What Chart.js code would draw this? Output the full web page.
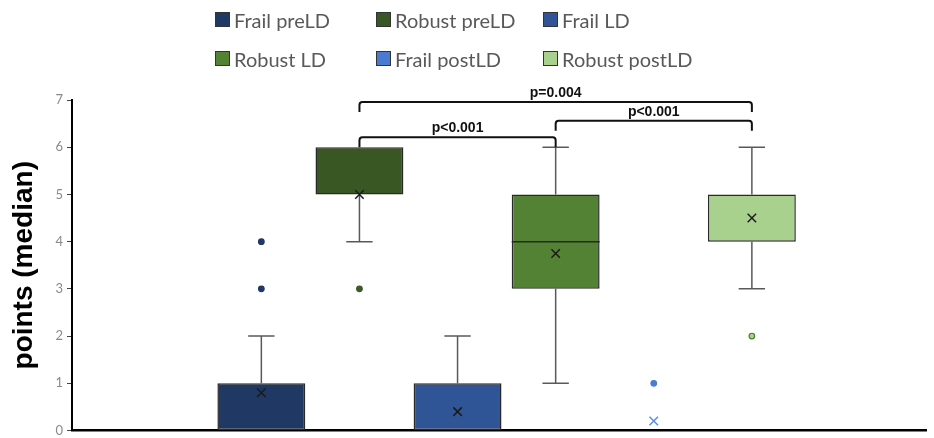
<!DOCTYPE html>
<html>
<head>
<meta charset="utf-8">
<title>points (median)</title>
<script src="https://cdn.jsdelivr.net/npm/chart.js@4.4.1/dist/chart.umd.min.js"></script>
<style>
  body { margin: 0; background: #fff; }
  #wrap { position: relative; width: 934px; height: 438px; }
  #legend {
    position: absolute; left: 215px; top: 0;
    display: grid; grid-template-columns: 161px 167px auto; grid-auto-rows: 39px;
    font-family: Lato, "Open Sans", sans-serif; font-size: 20px; color: #595959;
  }
  .item { display: flex; align-items: center; white-space: nowrap; }
  .sw { width: 13px; height: 13px; border: 1px solid #333; margin-right: 4px; }
</style>
</head>
<body>
<div id="wrap">
  <canvas id="myChart" width="934" height="438"></canvas>
  <div id="legend"></div>
</div>
<script>
// categories (one box each)
const categories = ['Frail preLD', 'Robust preLD', 'Frail LD', 'Robust LD', 'Frail postLD', 'Robust postLD'];

// box plot values
const q1 = [0, 5, 0, 3, 0, 4];
const median = [1, 5, 1, 4, 0, 5];
const q3 = [1, 6, 1, 5, 0, 5];
const whiskerLow = [0, 4, 0, 1, 0, 3];
const whiskerHigh = [2, 6, 2, 6, 0, 6];
const means = [0.8, 5.0, 0.4, 3.75, 0.2, 4.5];
const outliers = [[3, 4], [3], [], [], [1], [2]];

// significance brackets (category index from/to, height in points, label)
const bracketFrom = [1, 3, 1];
const bracketTo = [5, 5, 3];
const bracketLevel = [6.96, 6.56, 6.21];
const bracketLabels = ['p=0.004', 'p<0.001', 'p<0.001'];

// colours
const boxColors = ['#203864', '#385723', '#2f5597', '#548235', '#4a7bd0', '#a9d18e'];
const meanColors = ['#1a1a1a', '#1a1a1a', '#1a1a1a', '#1a1a1a', '#5b8fdc', '#1a1a1a'];
const outlierFill = ['#203864', '#3d5a2a', '#2f5597', '#548235', '#4a7bd0', '#a9d18e'];
const outlierBorder = ['#203864', '#3d5a2a', '#2f5597', '#548235', '#4a7bd0', '#4f7a32'];

// legend (html)
const legend = document.getElementById('legend');
categories.forEach((name, i) => {
  const item = document.createElement('div');
  item.className = 'item';
  item.innerHTML = `<span class="sw" style="background:${boxColors[i]}"></span>${name}`;
  legend.appendChild(item);
});

const xPos = categories.map((c, i) => i + 1);

const outlierPoints = [];
const outlierCat = [];
outliers.forEach((vals, i) => {
  vals.forEach(v => {
    outlierPoints.push({ x: i + 1, y: v });
    outlierCat.push(i);
  });
});

// whiskers, medians and brackets drawn with the chart's scales
const boxExtras = {
  id: 'boxExtras',
  beforeDatasetsDraw(chart) {
    const ctx = chart.ctx;
    const xs = chart.scales.x, ys = chart.scales.y;
    const bars = chart.getDatasetMeta(2).data;
    ctx.save();
    ctx.strokeStyle = '#595959';
    ctx.lineWidth = 1.5;
    categories.forEach((c, i) => {
      const x = xs.getPixelForValue(xPos[i]);
      const half = bars[i].width * 0.15;
      const seg = (from, to) => {
        ctx.beginPath();
        ctx.moveTo(x, ys.getPixelForValue(from));
        ctx.lineTo(x, ys.getPixelForValue(to));
        ctx.moveTo(x - half, ys.getPixelForValue(to));
        ctx.lineTo(x + half, ys.getPixelForValue(to));
        ctx.stroke();
      };
      if (whiskerHigh[i] > q3[i]) seg(q3[i], whiskerHigh[i]);
      if (whiskerLow[i] < q1[i]) seg(q1[i], whiskerLow[i]);
    });
    ctx.restore();
  },
  afterDatasetDraw(chart, args) {
    if (args.meta.type !== 'bar') return;
    const ctx = chart.ctx;
    const ys = chart.scales.y;
    ctx.save();
    ctx.strokeStyle = '#262626';
    ctx.lineWidth = 1.5;
    args.meta.data.forEach((bar, i) => {
      // median on the box edge is already drawn by the border
      if (median[i] <= q1[i] || median[i] >= q3[i]) return;
      const y = ys.getPixelForValue(median[i]);
      ctx.beginPath();
      ctx.moveTo(bar.x - bar.width / 2, y);
      ctx.lineTo(bar.x + bar.width / 2, y);
      ctx.stroke();
    });
    ctx.restore();
  },
  afterDraw(chart) {
    const ctx = chart.ctx;
    const xs = chart.scales.x, ys = chart.scales.y;
    const drop = 10, r = 3;
    ctx.save();
    ctx.strokeStyle = '#111';
    ctx.lineWidth = 2;
    ctx.fillStyle = '#111';
    ctx.font = 'bold 14px "Liberation Sans", Arial, sans-serif';
    ctx.textAlign = 'center';
    ctx.textBaseline = 'bottom';
    bracketLabels.forEach((label, k) => {
      const x1 = xs.getPixelForValue(xPos[bracketFrom[k]]);
      const x2 = xs.getPixelForValue(xPos[bracketTo[k]]);
      const y = ys.getPixelForValue(bracketLevel[k]);
      ctx.beginPath();
      ctx.moveTo(x1, y + drop);
      ctx.arcTo(x1, y, x1 + r, y, r);
      ctx.arcTo(x2, y, x2, y + r, r);
      ctx.lineTo(x2, y + drop);
      ctx.stroke();
      ctx.fillText(label, (x1 + x2) / 2, y - 2);
    });
    ctx.restore();
  }
};

const canvas = document.getElementById('myChart');
const myChart = new Chart(canvas.getContext('2d'), {
  type: 'bar',
  data: {
    datasets: [
      {
        type: 'scatter',
        label: 'mean',
        data: xPos.map((x, i) => ({ x: x, y: means[i] })),
        pointStyle: 'crossRot',
        pointRadius: 6,
        pointBorderWidth: 1.5,
        pointBorderColor: meanColors,
        pointBackgroundColor: meanColors,
        order: 1
      },
      {
        type: 'scatter',
        label: 'outliers',
        data: outlierPoints,
        pointStyle: 'circle',
        pointRadius: 2.8,
        pointBorderWidth: 1.2,
        pointBorderColor: outlierCat.map(c => outlierBorder[c]),
        pointBackgroundColor: outlierCat.map(c => outlierFill[c]),
        order: 2
      },
      {
        type: 'bar',
        label: 'box',
        data: xPos.map((x, i) => ({ x: x, y: [q1[i], q3[i]] })),
        backgroundColor: boxColors,
        borderColor: '#2a2a2a',
        borderWidth: 1.5,
        borderSkipped: false,
        barPercentage: 0.896,
        categoryPercentage: 1,
        order: 3
      }
    ]
  },
  options: {
    responsive: false,
    animation: false,
    layout: { padding: { top: 100, right: 0, bottom: 6, left: 0 } },
    plugins: {
      legend: { display: false },
      tooltip: { enabled: false }
    },
    scales: {
      x: {
        type: 'linear',
        offset: false,
        min: -0.93,
        max: 7.78,
        ticks: { display: false },
        grid: { display: false, drawTicks: false },
        border: { display: true, color: '#000', width: 2.5 },
        afterBuildTicks: (s) => { s.ticks = xPos.map(v => ({ value: v })); },
        afterFit: (s) => { s.height = 0; s.paddingLeft = 0; s.paddingRight = 0; }
      },
      y: {
        min: 0,
        max: 7,
        ticks: {
          stepSize: 1,
          color: '#8a8a8a',
          padding: 4,
          font: { family: 'Lato, "Open Sans", sans-serif', size: 13 }
        },
        grid: { display: true, drawOnChartArea: false, drawTicks: true, tickLength: 5, color: '#444' },
        border: { display: true, color: '#000', width: 2 },
        title: {
          display: true,
          text: 'points (median)',
          color: '#000',
          padding: { top: 7, bottom: 0 },
          font: { family: '"Liberation Sans", Arial, sans-serif', size: 28, weight: 'bold' }
        },
        afterFit: (s) => { s.width = 72; s.paddingTop = 0; s.paddingBottom = 0; }
      }
    }
  },
  plugins: [boxExtras]
});
</script>
</body>
</html>
